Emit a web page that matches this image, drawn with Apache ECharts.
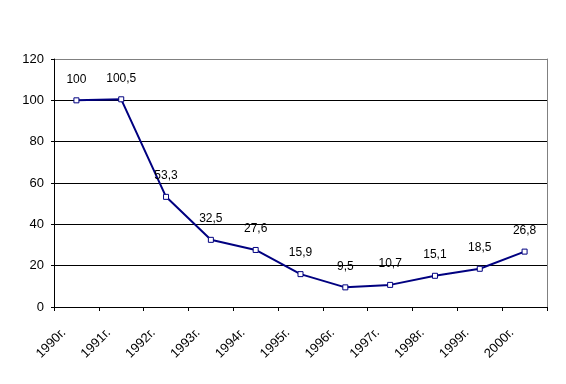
<!DOCTYPE html>
<html><head><meta charset="utf-8">
<script src="https://cdn.jsdelivr.net/npm/echarts@6/dist/echarts.min.js"></script>
<style>html,body{margin:0;padding:0;background:#fff}#c{width:566px;height:384px}</style>
</head><body><div id="c"></div>
<script>
const categories = ['1990г.','1991г.','1992г.','1993г.','1994г.','1995г.','1996г.','1997г.','1998г.','1999г.','2000г.'];
const values = [100, 100.5, 53.3, 32.5, 27.6, 15.9, 9.5, 10.7, 15.1, 18.5, 26.8];
const yTicks = {min: 0, max: 120, interval: 20};

const chart = echarts.init(document.getElementById('c'), null, {renderer: 'canvas'});
const font = 'Liberation Sans, Arial, sans-serif';
chart.setOption({
  animation: false,
  backgroundColor: '#fff',
  grid: {left: 54, right: 19, top: 59, bottom: 77},
  xAxis: {
    type: 'category', data: categories, boundaryGap: true,
    axisLine: {lineStyle: {color: '#000', width: 1}},
    axisTick: {show: true, length: 4, lineStyle: {color: '#000'}, alignWithLabel: false},
    axisLabel: {rotate: 45, fontFamily: font, fontSize: 13, color: '#000', margin: 11, interval: 0,
      padding: [0, 18, 0, 0]}
  },
  yAxis: [{
    type: 'value', min: yTicks.min, max: yTicks.max, interval: yTicks.interval,
    axisLine: {show: true, lineStyle: {color: '#000'}},
    axisTick: {show: true, length: 3, lineStyle: {color: '#000'}},
    axisLabel: {fontFamily: font, fontSize: 13, color: '#000', margin: 10},
    splitLine: {show: true, lineStyle: {color: ['#000','#000','#000','#000','#000','#000','#808080'], width: 1}}
  }, {
    type: 'value', position: 'right', min: yTicks.min, max: yTicks.max, interval: yTicks.interval,
    axisLine: {show: true, lineStyle: {color: '#808080'}},
    axisTick: {show: false}, axisLabel: {show: false}, splitLine: {show: false}
  }],
  series: [{
    type: 'line', data: values, yAxisIndex: 0,
    symbol: 'rect', symbolSize: 5, showAllSymbol: true,
    lineStyle: {color: '#000080', width: 2},
    itemStyle: {color: '#fff', borderColor: '#000080', borderWidth: 1},
    label: {show: true, position: 'top', distance: 12, fontFamily: font, fontSize: 12, color: '#000',
      formatter: p => String(p.value).replace('.', ',')}
  }]
});
</script></body></html>
